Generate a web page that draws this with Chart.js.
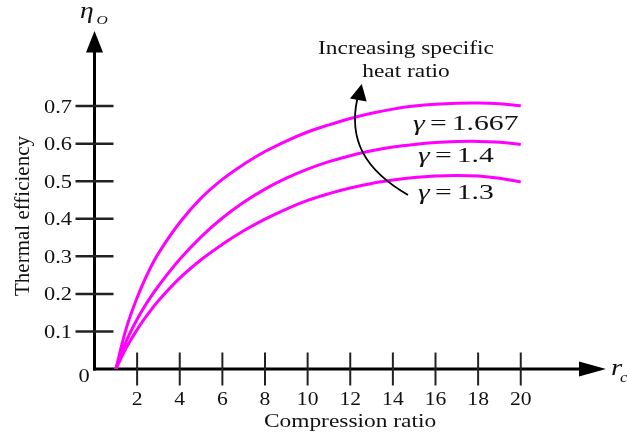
<!DOCTYPE html>
<html><head><meta charset="utf-8">
<script src="https://cdn.jsdelivr.net/npm/chart.js@4/dist/chart.umd.min.js"></script>
<style>html,body{margin:0;padding:0;background:#fff}#wrap{width:627px;height:433px;position:relative}</style>
</head><body><div id="wrap"><canvas id="c"></canvas></div>
<script>
// ---- data ----
const compressionRatio = [1, 1.5, 2, 2.5, 3, 4, 5, 6, 7, 8, 9, 10, 11, 12, 13, 14, 15, 16, 17, 18, 19, 20];
const effGamma1667 = [0, 0.11, 0.19, 0.255, 0.308, 0.39, 0.455, 0.505, 0.545, 0.579, 0.607, 0.631, 0.650, 0.667, 0.681, 0.692, 0.700, 0.705, 0.7075, 0.708, 0.706, 0.701];
const effGamma14   = [0, 0.075, 0.1325, 0.18, 0.221, 0.292, 0.352, 0.402, 0.444, 0.479, 0.508, 0.532, 0.552, 0.568, 0.581, 0.591, 0.598, 0.603, 0.6055, 0.606, 0.6035, 0.598];
const effGamma13   = [0, 0.0575, 0.105, 0.146, 0.182, 0.242, 0.291, 0.332, 0.368, 0.399, 0.426, 0.449, 0.467, 0.482, 0.494, 0.503, 0.510, 0.514, 0.5155, 0.514, 0.508, 0.498];
const seriesGammaNumbers = ['1.667', '1.4', '1.3'];
const xTickValues = [2, 4, 6, 8, 10, 12, 14, 16, 18, 20];
const xTickLabels = ['2', '4', '6', '8', '10', '12', '14', '16', '18', '20'];
const yTickValues = [0.1, 0.2, 0.3, 0.4, 0.5, 0.6, 0.7];
const yTickLabels = ['0.1', '0.2', '0.3', '0.4', '0.5', '0.6', '0.7'];
const xTitle = 'Compression ratio';
const yTitle = 'Thermal efficiency';
const noteLines = ['Increasing specific', 'heat ratio'];

const SERIF = '"Liberation Serif", "Times New Roman", serif';
const MAGENTA = '#ff00ff';

function toPoints(ys) { return compressionRatio.map((r, i) => ({ x: r, y: ys[i] })); }

function txt(ctx, s, x, y, font, align, sx, base) {
  ctx.save();
  ctx.translate(x, y);
  ctx.scale(sx || 1, 1);
  ctx.font = font;
  ctx.textAlign = align || 'left';
  ctx.textBaseline = base || 'alphabetic';
  ctx.fillStyle = '#111';
  ctx.fillText(s, 0, 0);
  ctx.restore();
}

const axesPlugin = {
  id: 'axesPlugin',
  beforeDatasetsDraw(chart) {
    const ctx = chart.ctx, xs = chart.scales.x, ys = chart.scales.y;
    const x0 = xs.getPixelForValue(0), y0 = ys.getPixelForValue(0);
    const yTop = ys.getPixelForValue(ys.max), xEnd = xs.getPixelForValue(xs.max);
    ctx.save();
    ctx.strokeStyle = '#000'; ctx.fillStyle = '#000';
    // y axis
    ctx.lineWidth = 3;
    ctx.beginPath(); ctx.moveTo(x0, y0 + 1.5); ctx.lineTo(x0, yTop + 18); ctx.stroke();
    ctx.beginPath(); ctx.moveTo(x0, yTop); ctx.lineTo(x0 - 8.5, yTop + 21.5); ctx.lineTo(x0 + 8.5, yTop + 21.5); ctx.closePath(); ctx.fill();
    // x axis
    ctx.beginPath(); ctx.moveTo(x0 - 1.5, y0); ctx.lineTo(xEnd - 24, y0); ctx.stroke();
    ctx.beginPath(); ctx.moveTo(xEnd, y0); ctx.lineTo(xEnd - 27, y0 - 7.5); ctx.lineTo(xEnd - 27, y0 + 7.5); ctx.closePath(); ctx.fill();
    // y ticks
    ctx.strokeStyle = '#222'; ctx.lineWidth = 2.5;
    yTickValues.forEach(v => {
      const y = ys.getPixelForValue(v);
      ctx.beginPath(); ctx.moveTo(x0 - 19, y); ctx.lineTo(x0 + 19, y); ctx.stroke();
    });
    // x ticks
    ctx.lineWidth = 2;
    xTickValues.forEach(r => {
      const x = xs.getPixelForValue(r);
      ctx.beginPath(); ctx.moveTo(x, y0 - 16.5); ctx.lineTo(x, y0 + 16.5); ctx.stroke();
    });
    ctx.restore();
  },
  afterDatasetsDraw(chart) {
    const ctx = chart.ctx;
    // curved annotation arrow
    ctx.save();
    ctx.strokeStyle = '#000'; ctx.fillStyle = '#000'; ctx.lineWidth = 1.8;
    ctx.beginPath(); ctx.moveTo(408, 195); ctx.bezierCurveTo(365, 170, 348, 140, 357.5, 98); ctx.stroke();
    ctx.beginPath(); ctx.moveTo(361.7, 84); ctx.lineTo(350, 98.5); ctx.lineTo(366.7, 101.5); ctx.closePath(); ctx.fill();
    ctx.restore();
  },
  afterDraw(chart) {
    const ctx = chart.ctx, xs = chart.scales.x, ys = chart.scales.y;
    const x0 = xs.getPixelForValue(0), y0 = ys.getPixelForValue(0);
    // y tick labels
    yTickValues.forEach((v, i) => {
      txt(ctx, yTickLabels[i], x0 - 22.5, ys.getPixelForValue(v) + 6.5, '19px ' + SERIF, 'right', 1.18);
    });
    // x tick labels
    xTickValues.forEach((r, i) => {
      txt(ctx, xTickLabels[i], xs.getPixelForValue(r), y0 + 35.5, '18px ' + SERIF, 'center', 1.2);
    });
    // origin 0
    txt(ctx, '0', x0 - 10.5, y0 + 12.5, '19px ' + SERIF, 'center', 1.18);
    // axis titles
    txt(ctx, xTitle, 350, 427, '18px ' + SERIF, 'center', 1.3);
    ctx.save();
    ctx.translate(29, 216); ctx.rotate(-Math.PI / 2);
    ctx.font = '21px ' + SERIF; ctx.textAlign = 'center'; ctx.textBaseline = 'alphabetic'; ctx.fillStyle = '#111';
    ctx.fillText(yTitle, 0, 0);
    ctx.restore();
    // axis symbols
    txt(ctx, '\u03B7', 80, 18, 'italic 23px ' + SERIF, 'left', 1.2);
    txt(ctx, 'O', 96.5, 24, 'italic 13px ' + SERIF, 'left', 1.2);
    txt(ctx, 'r', 611, 375, 'italic 24px ' + SERIF, 'left', 1.2);
    txt(ctx, 'c', 620, 382, 'italic 14px ' + SERIF, 'left', 1.2);
    // note text
    txt(ctx, noteLines[0], 406, 53.5, '19px ' + SERIF, 'center', 1.23);
    txt(ctx, noteLines[1], 406, 77, '19px ' + SERIF, 'center', 1.23);
    // gamma labels
    const gx = [413, 418, 418], gy = [130, 161.7, 199];
    seriesGammaNumbers.forEach((n, i) => {
      txt(ctx, '\u03B3', gx[i], gy[i], 'italic 22px ' + SERIF, 'left', 1.35);
      txt(ctx, '=', gx[i] + 17, gy[i], '22px ' + SERIF, 'left', 1.35);
      txt(ctx, n, gx[i] + 38.7, gy[i], '22px ' + SERIF, 'left', 1.35);
    });
  }
};

const mk = (label, ys) => ({
  label, data: toPoints(ys), borderColor: MAGENTA, backgroundColor: MAGENTA,
  borderWidth: 3, pointRadius: 0, tension: 0.4, fill: false
});

new Chart(document.getElementById('c'), {
  type: 'line',
  data: { datasets: [
    mk('\u03B3 = ' + seriesGammaNumbers[0], effGamma1667),
    mk('\u03B3 = ' + seriesGammaNumbers[1], effGamma14),
    mk('\u03B3 = ' + seriesGammaNumbers[2], effGamma13)
  ] },
  options: {
    responsive: true, maintainAspectRatio: false, animation: false, devicePixelRatio: 1,
    layout: { padding: { left: 94.5, right: 21, top: 31, bottom: 64 } },
    plugins: { legend: { display: false }, tooltip: { enabled: false } },
    scales: {
      x: { type: 'linear', min: 0, max: 24, display: false },
      y: { type: 'linear', min: 0, max: 0.9, display: false }
    }
  },
  plugins: [axesPlugin]
});
</script></body></html>
